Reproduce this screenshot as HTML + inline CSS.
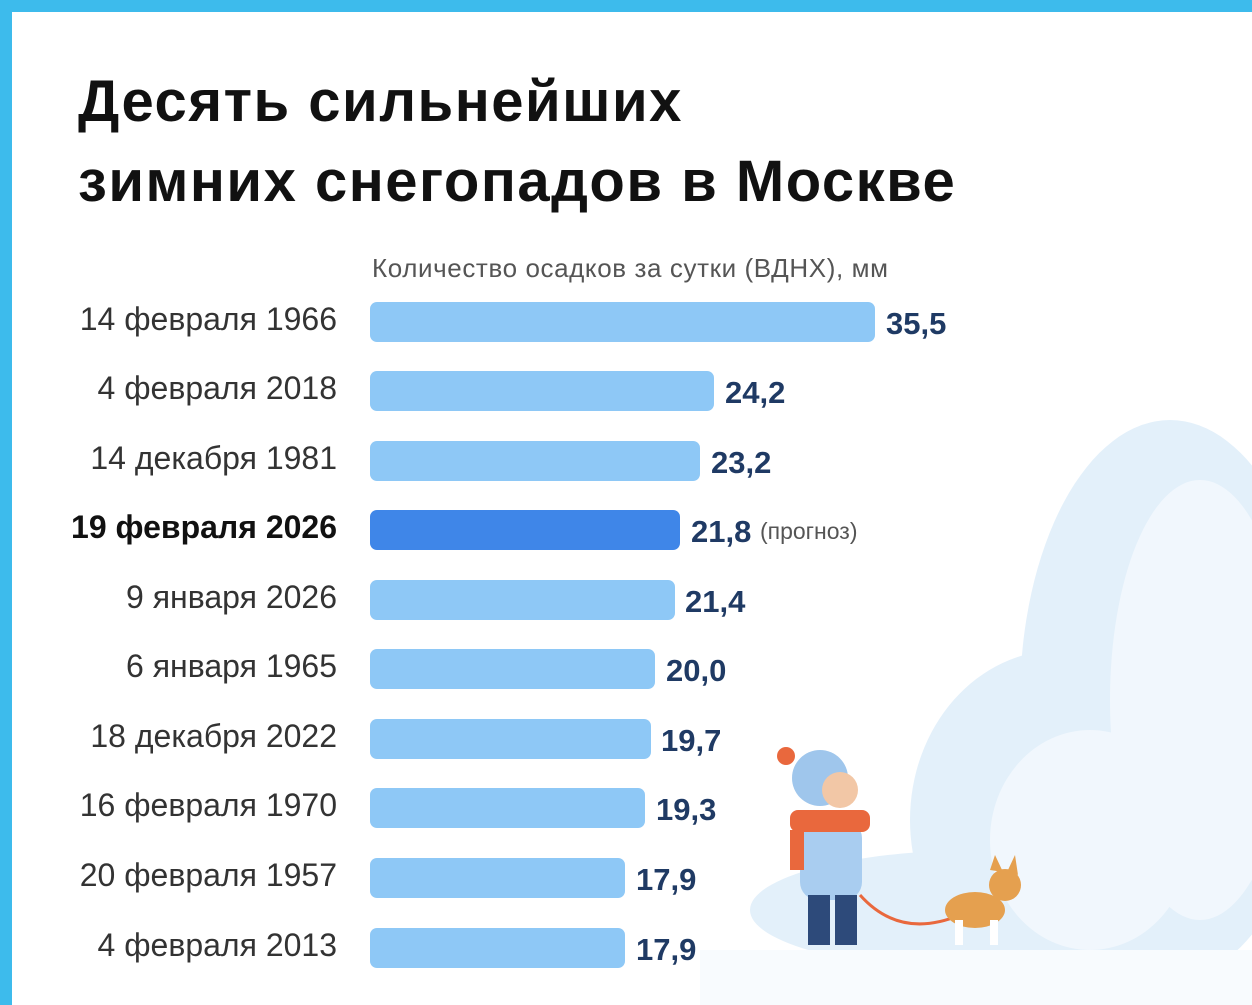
<!DOCTYPE html>
<html><head><meta charset="utf-8"><style>
body{margin:0;width:1252px;height:1005px;overflow:hidden;background:#fff;font-family:"Liberation Sans","DejaVu Sans",sans-serif;position:relative}
.top{position:absolute;left:0;top:0;width:1252px;height:12px;background:#3dbbec}
.left{position:absolute;left:0;top:0;width:12px;height:1005px;background:#3dbbec}
h1{position:absolute;left:78px;top:62px;margin:0;font-size:58px;line-height:80px;font-weight:bold;color:#111;letter-spacing:1.5px}
.sub{position:absolute;left:372px;top:253px;font-size:26px;color:#555;letter-spacing:0.6px}
.lab{position:absolute;right:915px;font-size:32px;color:#333;white-space:nowrap;margin-top:-1px}
.bar{position:absolute;left:370px;height:40px;border-radius:7px;background:#8ec8f6}
.val{position:absolute;font-size:31px;font-weight:bold;color:#1f3a64;margin-top:1px}
</style></head><body>
<svg style="position:absolute;left:0;top:0" width="1252" height="1005">
<g fill="#e3f0fa">
<ellipse cx="1170" cy="700" rx="150" ry="280"/>
<ellipse cx="1060" cy="820" rx="150" ry="170"/>
<ellipse cx="980" cy="910" rx="230" ry="60"/>
</g>
<g fill="#f1f7fd">
<ellipse cx="1200" cy="700" rx="90" ry="220"/>
<ellipse cx="1090" cy="840" rx="100" ry="110"/>
</g>
<rect x="700" y="950" width="552" height="55" fill="#f8fbfe"/>
<circle cx="820" cy="778" r="28" fill="#9fc6ec"/>
<circle cx="786" cy="756" r="9" fill="#e9683d"/>
<circle cx="840" cy="790" r="18" fill="#f2c7a6"/>
<rect x="800" y="820" width="62" height="80" rx="18" fill="#a9cdf0"/>
<rect x="790" y="810" width="80" height="22" rx="8" fill="#e9683d"/>
<rect x="790" y="830" width="14" height="40" fill="#e9683d"/>
<rect x="808" y="895" width="22" height="50" fill="#2d4a7a"/>
<rect x="835" y="895" width="22" height="50" fill="#2d4a7a"/>
<path d="M860 895 Q900 940 960 915" stroke="#e9683d" stroke-width="3" fill="none"/>
<ellipse cx="975" cy="910" rx="30" ry="18" fill="#e5a04f"/>
<circle cx="1005" cy="885" r="16" fill="#e5a04f"/>
<path d="M990 870 L995 855 L1003 872Z M1008 870 L1015 855 L1018 875Z" fill="#e5a04f"/>
<rect x="955" y="920" width="8" height="25" fill="#fff"/><rect x="990" y="920" width="8" height="25" fill="#fff"/>
</svg>
<div class="top"></div><div class="left"></div>
<h1>Десять сильнейших<br>зимних снегопадов в Москве</h1>
<div class="sub">Количество осадков за сутки (ВДНХ), мм</div>

<div class="lab" style="top:302px">14 февраля 1966</div><div class="bar" style="top:302px;width:505px"></div><div class="val" style="left:886px;top:305px">35,5</div>
<div class="lab" style="top:371px">4 февраля 2018</div><div class="bar" style="top:371px;width:344px"></div><div class="val" style="left:725px;top:374px">24,2</div>
<div class="lab" style="top:441px">14 декабря 1981</div><div class="bar" style="top:441px;width:330px"></div><div class="val" style="left:711px;top:444px">23,2</div>
<div class="lab" style="top:510px;font-weight:bold;color:#111">19 февраля 2026</div><div class="bar" style="top:510px;width:310px;background:#3f86e8"></div><div class="val" style="left:691px;top:513px">21,8 <span style="font-size:23px;font-weight:normal;color:#555;position:relative;top:-3px">(прогноз)</span></div>
<div class="lab" style="top:580px">9 января 2026</div><div class="bar" style="top:580px;width:305px"></div><div class="val" style="left:685px;top:583px">21,4</div>
<div class="lab" style="top:649px">6 января 1965</div><div class="bar" style="top:649px;width:285px"></div><div class="val" style="left:666px;top:652px">20,0</div>
<div class="lab" style="top:719px">18 декабря 2022</div><div class="bar" style="top:719px;width:281px"></div><div class="val" style="left:661px;top:722px">19,7</div>
<div class="lab" style="top:788px">16 февраля 1970</div><div class="bar" style="top:788px;width:275px"></div><div class="val" style="left:656px;top:791px">19,3</div>
<div class="lab" style="top:858px">20 февраля 1957</div><div class="bar" style="top:858px;width:255px"></div><div class="val" style="left:636px;top:861px">17,9</div>
<div class="lab" style="top:928px">4 февраля 2013</div><div class="bar" style="top:928px;width:255px"></div><div class="val" style="left:636px;top:931px">17,9</div>
</body></html>
